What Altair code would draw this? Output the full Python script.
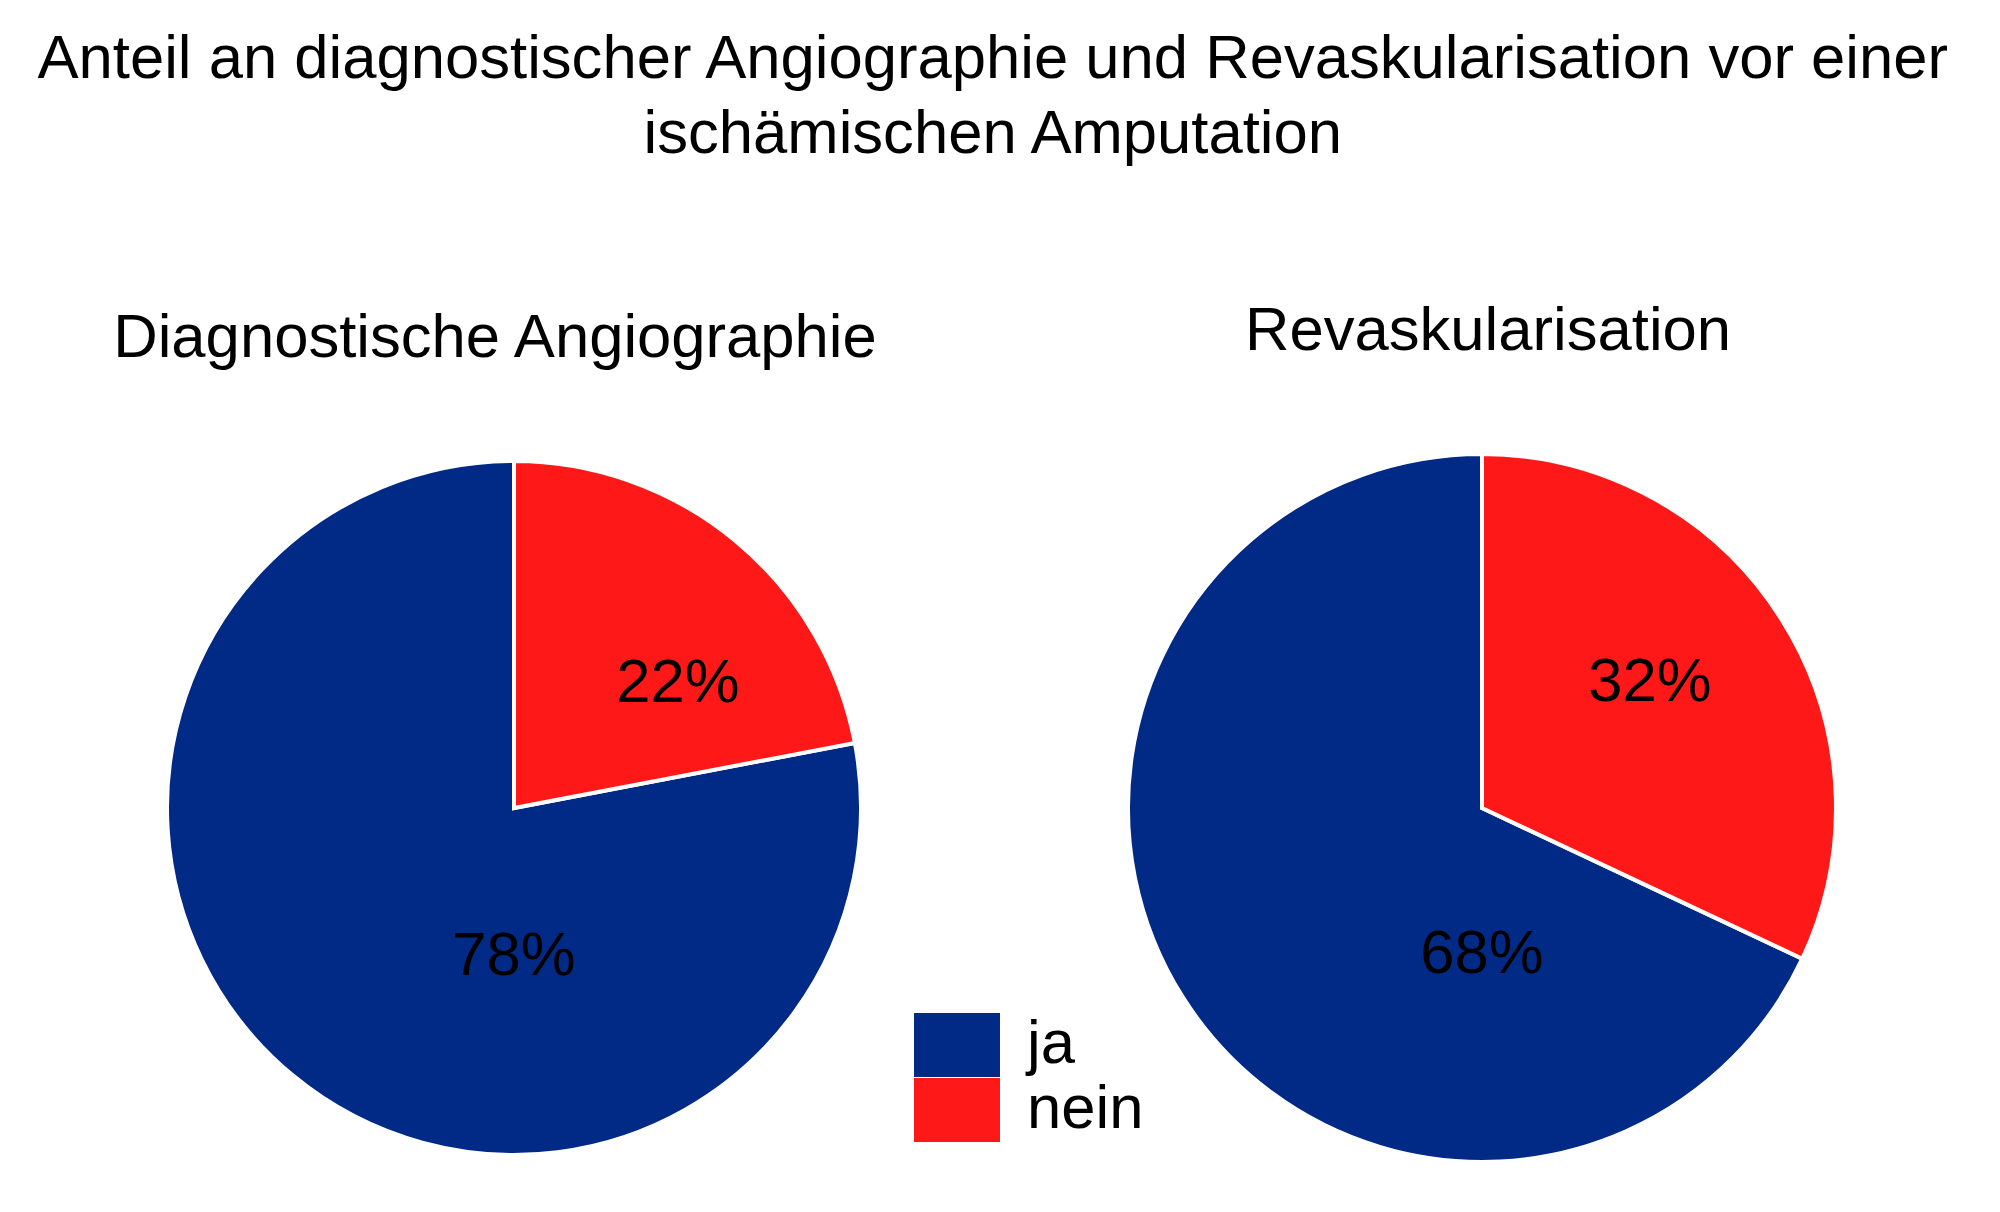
import altair as alt
import pandas as pd

FONT = "Liberation Sans"
FS = 61.6

title_lines = [
    "Anteil an diagnostischer Angiographie und Revaskularisation vor einer",
    "ischämischen Amputation",
]
panel_titles = ["Diagnostische Angiographie", "Revaskularisation"]
categories = ["ja", "nein"]
angio_values = [78, 22]
revask_values = [68, 32]
slice_order = ["nein", "ja"]  # clockwise from 12 o'clock
colors = ["#002a86", "#fe1818"]


def make_df(values):
    return pd.DataFrame({
        "kategorie": categories,
        "anteil": values,
        "label": [f"{v}%" for v in values],
        "reihenfolge": [slice_order.index(c) for c in categories],
    })


color = alt.Color(
    "kategorie:N",
    scale=alt.Scale(domain=categories, range=colors),
    legend=alt.Legend(
        title=None,
        orient="none",
        legendX=758,
        legendY=559,
        labelFont=FONT,
        labelFontSize=FS,
        labelColor="black",
        labelOffset=38,
        symbolType="M-1.344,-1H1.344V1H-1.344Z",
        symbolSize=4096,
        symbolStrokeWidth=0,
        symbolOpacity=1,
        rowPadding=1,
    ),
)


def pie(values, title, w, h, nein_off, ja_off, title_dx):
    base = alt.Chart(make_df(values))
    arc = base.mark_arc(stroke="white", strokeWidth=4).encode(
        theta=alt.Theta("anteil:Q", stack=True),
        color=color,
        order=alt.Order("reihenfolge:Q"),
    )
    t_nein = base.transform_filter(alt.datum.kategorie == "nein").mark_text(
        font=FONT, fontSize=FS, color="black", align="center",
        baseline="alphabetic", dx=nein_off[0], dy=nein_off[1],
    ).encode(text="label:N")
    t_ja = base.transform_filter(alt.datum.kategorie == "ja").mark_text(
        font=FONT, fontSize=FS, color="black", align="center",
        baseline="alphabetic", dx=ja_off[0], dy=ja_off[1],
    ).encode(text="label:N")
    return alt.layer(arc, t_nein, t_ja).properties(
        width=w,
        height=h,
        title=alt.TitleParams(
            title, font=FONT, fontSize=FS, fontWeight="normal",
            color="black", baseline="alphabetic", offset=34, anchor="middle",
            dx=title_dx,
        ),
    )


left = pie(angio_values, panel_titles[0], 694, 708, (164, -106), (0, 167), -19)
right = pie(revask_values, panel_titles[1], 708, 708, (168, -107), (0, 165), 6)

chart = alt.hconcat(left, right, spacing=241).properties(
    title=alt.TitleParams(
        title_lines, font=FONT, fontSize=FS, fontWeight="normal",
        color="black", anchor="middle", lineHeight=75, offset=136, dx=15,
    ),
    padding={"left": 27, "top": 20, "right": 20, "bottom": 20},
).configure_view(stroke=None)

chart.save("out.html", embed_options={"renderer": "svg", "actions": False})
